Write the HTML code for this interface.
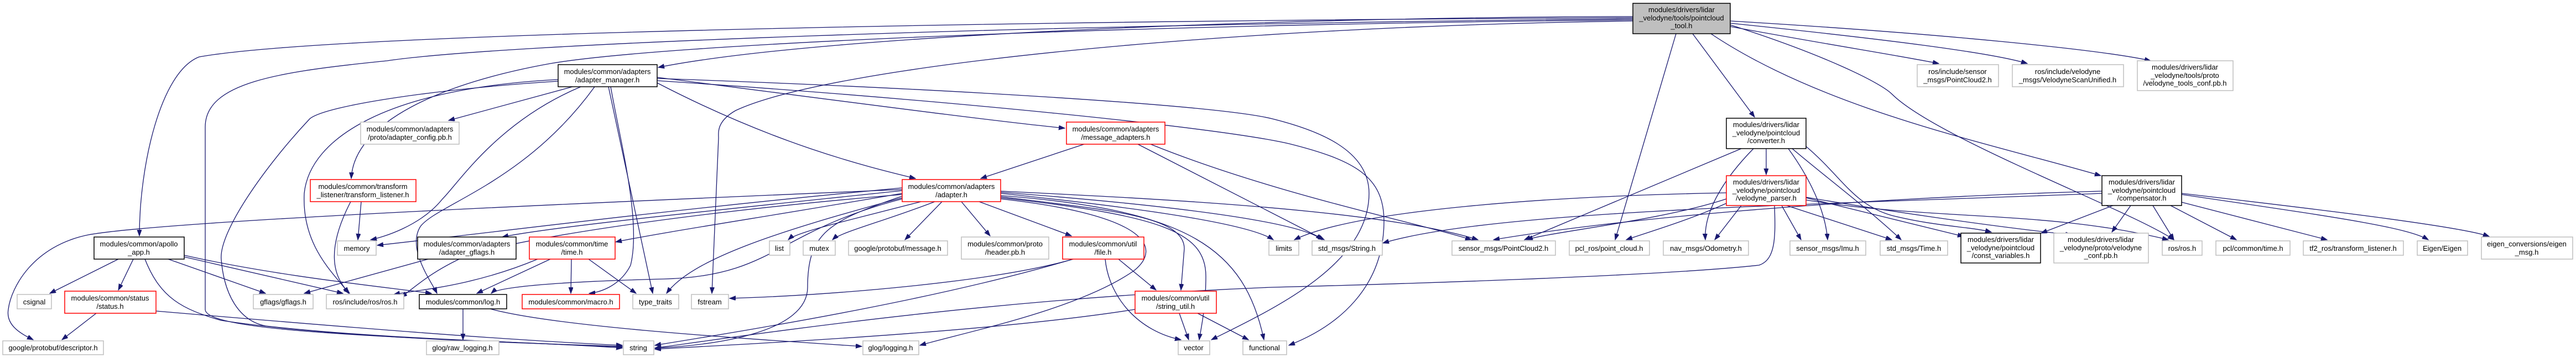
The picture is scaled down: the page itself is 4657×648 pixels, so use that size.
<!DOCTYPE html>
<html><head><meta charset="utf-8"><style>
html,body{margin:0;padding:0;background:#fff;}
svg{display:block;}
text{font-family:"Liberation Sans",sans-serif;font-size:13px;fill:#000;text-anchor:middle;}
.e{fill:none;stroke:#191970;stroke-width:1.3;marker-end:url(#a);}
.g{fill:#fff;stroke:#bfbfbf;stroke-width:1.5;}
.b{fill:#fff;stroke:#000;stroke-width:1.5;}
.r{fill:#fff;stroke:#ff0000;stroke-width:1.5;}
</style></head><body>
<svg width="4657" height="648" viewBox="0 0 4657 648" xmlns="http://www.w3.org/2000/svg">
<defs><marker id="a" markerUnits="userSpaceOnUse" markerWidth="12" markerHeight="10" refX="11" refY="4" orient="auto"><path d="M0,0 L11,4 L0,8 z" fill="#191970" stroke="#191970"/></marker></defs>
<g>
<!-- main edges -->
<path class="e" d="M2952,30 C2400,30 1500,60 1190,122"/>
<path class="e" d="M2952,32 C1800,38 600,60 360,103 C290,130 252,300 252,427"/>
<path class="e" d="M2952,34 C1800,45 900,80 700,110 C500,130 371,150 371,230 L371,560 C371,600 700,610 1125,628"/>
<path class="e" d="M2952,36 C2000,45 1200,80 995,115 C800,150 640,220 635,323"/>
<path class="e" d="M2952,38 C2200,48 1500,120 1330,200 C1295,220 1299,240 1299,250 L1287,531"/>
<path class="e" d="M3128,48 C3300,80 3430,100 3505,115"/>
<path class="e" d="M3128,42 C3400,70 3600,95 3665,115"/>
<path class="e" d="M3128,38 C3500,60 3800,90 3888,110"/>
<path class="e" d="M3060,61 L3172,212"/>
<path class="e" d="M3030,61 L2920,434"/>
<path class="e" d="M3093,61 C3300,200 3600,260 3798,318"/>
<path class="e" d="M3128,45 C3300,100 3400,150 3420,170 C3500,250 3850,380 3930,434"/>
<!-- adapter_manager edges -->
<path class="e" d="M1035,157 L811,218"/>
<path class="e" d="M1050,157 C900,220 830,330 800,360 C760,410 690,430 670,434"/>
<path class="e" d="M1009,144 C700,160 560,250 550,350 C545,450 610,500 630,531"/>
<path class="e" d="M1075,157 C950,330 790,370 760,410 C735,450 780,510 790,531"/>
<path class="e" d="M1009,147 C800,160 590,190 560,215 C480,300 395,420 400,470 C405,530 430,580 480,590 C700,615 1000,620 1125,630"/>
<path class="e" d="M1104,157 C1120,250 1160,400 1140,480 C1120,520 1080,530 1065,531"/>
<path class="e" d="M1100,157 L1180,531"/>
<path class="e" d="M1188,140 C1500,180 1800,220 1925,232"/>
<path class="e" d="M1188,150 C1400,260 1560,300 1655,323"/>
<path class="e" d="M1188,142 C1700,160 2200,190 2300,215 C2380,235 2475,270 2475,350 C2475,480 2300,560 2190,615"/>
<path class="e" d="M1188,146 C1700,180 2200,230 2330,260 C2450,290 2502,320 2502,400 C2502,520 2420,590 2330,625"/>
<!-- adapter.h edges -->
<path class="e" d="M1665,365 C1530,400 1440,420 1425,434"/>
<path class="e" d="M1690,365 C1600,400 1520,420 1505,434"/>
<path class="e" d="M1703,365 L1636,434"/>
<path class="e" d="M1738,365 L1790,427"/>
<path class="e" d="M1770,365 L1937,427"/>
<path class="e" d="M1809,350 C2000,370 2250,400 2302,434"/>
<path class="e" d="M1809,348 C2100,370 2350,400 2390,434"/>
<path class="e" d="M1809,346 C2100,360 2500,380 2672,434"/>
<path class="e" d="M1809,356 C2000,380 2141,390 2141,450 L2135,525"/>
<path class="e" d="M1809,358 C2100,390 2180,420 2180,500 C2180,560 2170,600 2168,615"/>
<path class="e" d="M1809,354 C2150,380 2250,450 2285,615"/>
<path class="e" d="M1809,360 C2080,390 2100,450 2050,490 C1950,560 1750,600 1663,625"/>
<path class="e" d="M1631,355 C1500,400 1460,420 1460,520 C1460,600 1300,625 1184,630"/>
<path class="e" d="M1631,352 C1300,380 1000,420 850,460 C780,490 750,520 725,538"/>
<path class="e" d="M1631,340 C1200,380 900,420 682,444"/>
<path class="e" d="M1631,345 C1300,380 1000,410 908,429"/>
<path class="e" d="M1631,350 C1400,390 1200,420 1113,438"/>
<path class="e" d="M1631,360 C1400,420 1400,500 1200,505 C1000,510 900,520 888,531"/>
<path class="e" d="M1631,358 C1400,420 1250,470 1205,531"/>
<path class="e" d="M1631,343 C1000,370 300,400 160,425 C60,445 20,520 15,560 C10,590 40,605 60,615"/>
<!-- message_adapters -->
<path class="e" d="M1960,261 L1773,323"/>
<path class="e" d="M2057,261 L2394,434"/>
<path class="e" d="M2080,261 C2300,350 2550,400 2660,434"/>
<!-- file.h -->
<path class="e" d="M1940,469 C1800,510 1500,535 1319,540"/>
<path class="e" d="M2022,469 L2090,525"/>
<path class="e" d="M1998,469 C2005,540 2060,600 2135,615"/>
<path class="e" d="M1940,469 C1700,540 1400,590 1184,625"/>
<!-- string_util -->
<path class="e" d="M2132,567 L2149,615"/>
<path class="e" d="M2165,567 L2257,615"/>
<path class="e" d="M2052,560 C1800,600 1400,620 1184,632"/>
<!-- apollo_app -->
<path class="e" d="M214,469 L90,531"/>
<path class="e" d="M241,469 L214,525"/>
<path class="e" d="M304,469 L480,531"/>
<path class="e" d="M333,465 L620,531"/>
<path class="e" d="M333,462 C500,500 700,520 780,531"/>
<path class="e" d="M262,469 C290,540 330,560 400,580 C600,610 900,620 1125,627"/>
<path class="e" d="M174,567 L112,615"/>
<path class="e" d="M282,563 C600,590 900,615 1125,625"/>
<path class="e" d="M653,365 L647,434"/>
<path class="e" d="M634,365 C590,450 600,500 632,531"/>
<path class="e" d="M774,469 L550,531"/>
<path class="e" d="M995,469 L862,531"/>
<path class="e" d="M1033,469 L1032,531"/>
<path class="e" d="M1064,469 L1150,531"/>
<path class="e" d="M972,469 C850,520 750,525 712,533"/>
<path class="e" d="M837,559 L837,615"/>
<path class="e" d="M886,559 C1000,590 1300,610 1558,627"/>
<!-- converter -->
<path class="e" d="M3193,269 L3193,316"/>
<path class="e" d="M3148,269 L2756,434"/>
<path class="e" d="M3170,269 C3120,320 3080,380 3083,434"/>
<path class="e" d="M3233,269 C3270,320 3300,380 3304,434"/>
<path class="e" d="M3240,269 C3300,320 3380,380 3437,434"/>
<path class="e" d="M3265,265 C3330,320 3350,370 3420,390 C3500,410 3560,410 3600,420"/>
<!-- parser -->
<path class="e" d="M3121,360 C3000,400 2800,420 2760,434"/>
<path class="e" d="M3121,368 C3050,400 2980,420 2940,434"/>
<path class="e" d="M3148,372 L3100,434"/>
<path class="e" d="M3221,372 L3256,434"/>
<path class="e" d="M3230,372 L3420,434"/>
<path class="e" d="M3265,358 L3550,428"/>
<path class="e" d="M3265,357 C3400,380 3600,410 3745,425"/>
<path class="e" d="M3121,349 C2800,355 2450,380 2340,434"/>
<path class="e" d="M3208,372 C3210,430 3210,470 3180,480 C3000,500 2500,515 2300,520 C1800,540 1400,600 1184,630"/>
<path class="e" d="M3265,362 C3500,400 3700,380 3920,434"/>
<!-- compensator -->
<path class="e" d="M3820,372 L3690,422"/>
<path class="e" d="M3852,372 L3818,420"/>
<path class="e" d="M3892,372 L3930,434"/>
<path class="e" d="M3924,372 L4043,434"/>
<path class="e" d="M3944,366 L4207,434"/>
<path class="e" d="M3944,352 C4200,390 4350,410 4390,434"/>
<path class="e" d="M3944,350 C4200,380 4450,410 4500,428"/>
<path class="e" d="M3800,350 C3300,370 2700,380 2500,440"/>
<path class="e" d="M3800,346 C3300,360 2900,400 2700,434"/>
</g>
<g>
<rect x="2952" y="6" width="176" height="55" fill="#bfbfbf" stroke="#000" stroke-width="1.5"/>
<text x="3040" y="22">modules/drivers/lidar</text><text x="3040" y="37">_velodyne/tools/pointcloud</text><text x="3040" y="51">_tool.h</text>

<rect class="b" x="1009" y="117" width="179" height="40"/><text x="1098" y="134">modules/common/adapters</text><text x="1098" y="149">/adapter_manager.h</text>
<rect class="g" x="652" y="221" width="178" height="40"/><text x="741" y="238">modules/common/adapters</text><text x="741" y="253">/proto/adapter_config.pb.h</text>
<rect class="r" x="561" y="325" width="191" height="40"/><text x="656" y="342">modules/common/transform</text><text x="656" y="357">_listener/transform_listener.h</text>
<rect class="b" x="170" y="429" width="163" height="40"/><text x="251" y="446">modules/common/apollo</text><text x="251" y="461">_app.h</text>
<rect class="g" x="610" y="436" width="70" height="26"/><text x="645" y="454">memory</text>
<rect class="b" x="755" y="429" width="178" height="40"/><text x="844" y="446">modules/common/adapters</text><text x="844" y="461">/adapter_gflags.h</text>
<rect class="r" x="957" y="429" width="155" height="40"/><text x="1034" y="446">modules/common/time</text><text x="1034" y="461">/time.h</text>
<rect class="g" x="31" y="533" width="62" height="26"/><text x="62" y="551">csignal</text>
<rect class="r" x="117" y="527" width="165" height="40"/><text x="199" y="544">modules/common/status</text><text x="199" y="559">/status.h</text>
<rect class="g" x="458" y="533" width="108" height="26"/><text x="512" y="551">gflags/gflags.h</text>
<rect class="g" x="590" y="533" width="140" height="26"/><text x="660" y="551">ros/include/ros/ros.h</text>
<rect class="b" x="758" y="533" width="158" height="26"/><text x="837" y="551">modules/common/log.h</text>
<rect class="r" x="944" y="533" width="176" height="26"/><text x="1032" y="551">modules/common/macro.h</text>
<rect class="g" x="1144" y="533" width="83" height="26"/><text x="1185" y="551">type_traits</text>
<rect class="g" x="5" y="617" width="182" height="25"/><text x="96" y="634">google/protobuf/descriptor.h</text>
<rect class="g" x="771" y="617" width="131" height="25"/><text x="836" y="634">glog/raw_logging.h</text>
<rect class="g" x="1127" y="617" width="55" height="25"/><text x="1154" y="634">string</text>
<rect class="r" x="1928" y="221" width="178" height="40"/><text x="2017" y="238">modules/common/adapters</text><text x="2017" y="253">/message_adapters.h</text>
<rect class="r" x="1631" y="325" width="178" height="40"/><text x="1720" y="342">modules/common/adapters</text><text x="1720" y="357">/adapter.h</text>
<rect class="g" x="1391" y="436" width="37" height="26"/><text x="1409" y="454">list</text>
<rect class="g" x="1452" y="436" width="58" height="26"/><text x="1481" y="454">mutex</text>
<rect class="g" x="1534" y="436" width="179" height="26"/><text x="1623" y="454">google/protobuf/message.h</text>
<rect class="g" x="1738" y="429" width="158" height="40"/><text x="1817" y="446">modules/common/proto</text><text x="1817" y="461">/header.pb.h</text>
<rect class="r" x="1921" y="429" width="147" height="40"/><text x="1994" y="446">modules/common/util</text><text x="1994" y="461">/file.h</text>
<rect class="g" x="2294" y="436" width="54" height="26"/><text x="2321" y="454">limits</text>
<rect class="g" x="2372" y="436" width="127" height="26"/><text x="2435" y="454">std_msgs/String.h</text>
<rect class="g" x="1250" y="533" width="67" height="26"/><text x="1283" y="551">fstream</text>
<rect class="r" x="2052" y="527" width="147" height="40"/><text x="2125" y="544">modules/common/util</text><text x="2125" y="559">/string_util.h</text>
<rect class="g" x="1560" y="617" width="101" height="25"/><text x="1610" y="634">glog/logging.h</text>
<rect class="g" x="2130" y="617" width="57" height="25"/><text x="2158" y="634">vector</text>
<rect class="g" x="2247" y="617" width="79" height="25"/><text x="2286" y="634">functional</text>
<rect class="g" x="3466" y="117" width="147" height="40"/><text x="3539" y="134">ros/include/sensor</text><text x="3539" y="149">_msgs/PointCloud2.h</text>
<rect class="g" x="3638" y="117" width="201" height="40"/><text x="3738" y="134">ros/include/velodyne</text><text x="3738" y="149">_msgs/VelodyneScanUnified.h</text>
<rect class="g" x="3864" y="110" width="173" height="54"/><text x="3950" y="126">modules/drivers/lidar</text><text x="3950" y="141">_velodyne/tools/proto</text><text x="3950" y="155">/velodyne_tools_conf.pb.h</text>
<rect class="b" x="3121" y="214" width="144" height="55"/><text x="3193" y="230">modules/drivers/lidar</text><text x="3193" y="245">_velodyne/pointcloud</text><text x="3193" y="259">/converter.h</text>
<rect class="r" x="3121" y="318" width="144" height="54"/><text x="3193" y="334">modules/drivers/lidar</text><text x="3193" y="349">_velodyne/pointcloud</text><text x="3193" y="363">/velodyne_parser.h</text>
<rect class="b" x="3800" y="318" width="144" height="54"/><text x="3872" y="334">modules/drivers/lidar</text><text x="3872" y="349">_velodyne/pointcloud</text><text x="3872" y="363">/compensator.h</text>
<rect class="g" x="2625" y="436" width="187" height="26"/><text x="2718" y="454">sensor_msgs/PointCloud2.h</text>
<rect class="g" x="2837" y="436" width="145" height="26"/><text x="2909" y="454">pcl_ros/point_cloud.h</text>
<rect class="g" x="3007" y="436" width="154" height="26"/><text x="3084" y="454">nav_msgs/Odometry.h</text>
<rect class="g" x="3236" y="436" width="137" height="26"/><text x="3304" y="454">sensor_msgs/Imu.h</text>
<rect class="g" x="3399" y="436" width="122" height="26"/><text x="3460" y="454">std_msgs/Time.h</text>
<rect class="b" x="3545" y="422" width="144" height="54"/><text x="3617" y="438">modules/drivers/lidar</text><text x="3617" y="453">_velodyne/pointcloud</text><text x="3617" y="467">/const_variables.h</text>
<rect class="g" x="3713" y="422" width="171" height="54"/><text x="3798" y="438">modules/drivers/lidar</text><text x="3798" y="453">_velodyne/proto/velodyne</text><text x="3798" y="467">_conf.pb.h</text>
<rect class="g" x="3909" y="436" width="72" height="26"/><text x="3945" y="454">ros/ros.h</text>
<rect class="g" x="4006" y="436" width="134" height="26"/><text x="4073" y="454">pcl/common/time.h</text>
<rect class="g" x="4164" y="436" width="181" height="26"/><text x="4254" y="454">tf2_ros/transform_listener.h</text>
<rect class="g" x="4370" y="436" width="91" height="26"/><text x="4415" y="454">Eigen/Eigen</text>
<rect class="g" x="4486" y="429" width="165" height="40"/><text x="4568" y="446">eigen_conversions/eigen</text><text x="4568" y="461">_msg.h</text>
</g>
</svg>
</body></html>
